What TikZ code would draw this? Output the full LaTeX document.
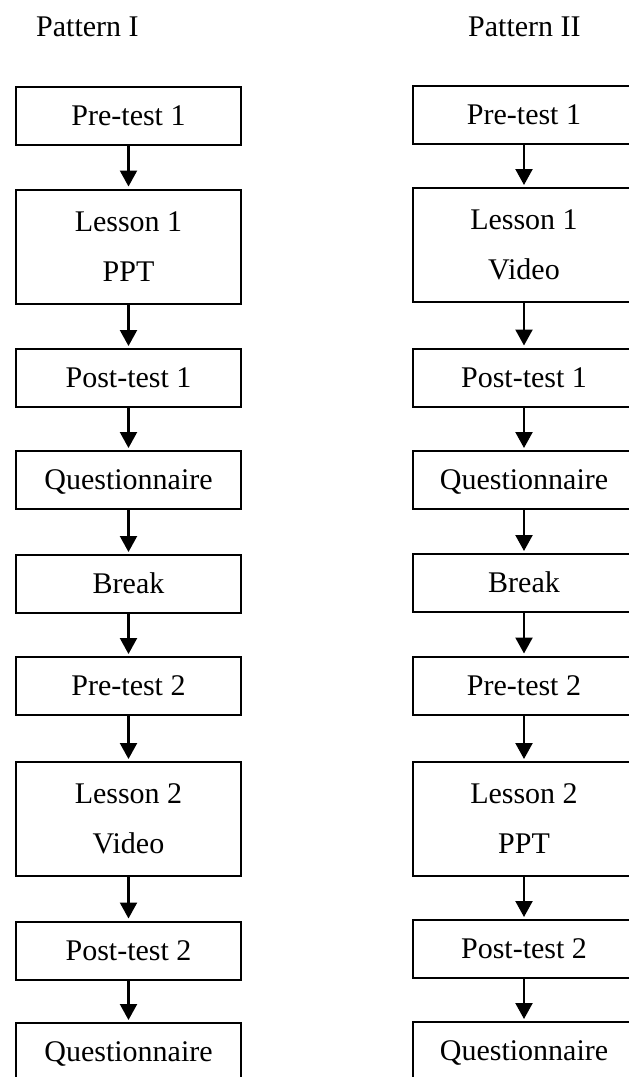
\documentclass[tikz,border=0pt]{standalone}
\usepackage{fontspec}
\setmainfont{Liberation Serif}
\usetikzlibrary{arrows.meta}
\begin{document}
\begin{tikzpicture}[x=1pt,y=1pt,
  every node/.style={font=\fontsize{30}{50}\selectfont, text=black},
  stagebox/.style={draw=black, line width=2pt, rectangle, fill=white,
    inner sep=0pt, minimum height=58pt, text height=19.5pt, text depth=0pt},
  lessonbox/.style={draw=black, line width=2pt, rectangle, fill=white,
    inner sep=0pt, minimum height=114pt, align=center},
  leftcol/.style={minimum width=225pt},
  rightcol/.style={minimum width=222pt},
  flow/.style={-{Triangle[length=16pt,width=17pt]}, line width=2.2pt, shorten >=2pt}]
\useasboundingbox (0,0) rectangle (629,-1077);
\fill[white] (0,0) rectangle (629,-1077);

% column headings
\node[anchor=base west, inner sep=0pt] (headA) at (36,-36) {Pattern I};
\node[anchor=base west, inner sep=0pt] (headB) at (468,-36) {Pattern II};

% Pattern I
\node[stagebox, leftcol]  (a1) at (128.5,-115.5) {Pre-test 1};
\node[lessonbox, leftcol] (a2) at (128.5,-246.5) {Lesson 1\\PPT};
\node[stagebox, leftcol]  (a3) at (128.5,-378)   {Post-test 1};
\node[stagebox, leftcol]  (a4) at (128.5,-480)   {Questionnaire};
\node[stagebox, leftcol]  (a5) at (128.5,-584)   {Break};
\node[stagebox, leftcol]  (a6) at (128.5,-686)   {Pre-test 2};
\node[lessonbox, leftcol] (a7) at (128.5,-819)   {Lesson 2\\Video};
\node[stagebox, leftcol]  (a8) at (128.5,-950.5) {Post-test 2};
\node[stagebox, leftcol]  (a9) at (128.5,-1052)  {Questionnaire};

% Pattern II
\node[stagebox, rightcol]  (b1) at (524,-115)   {Pre-test 1};
\node[lessonbox, rightcol] (b2) at (524,-245)   {Lesson 1\\Video};
\node[stagebox, rightcol]  (b3) at (524,-377.5) {Post-test 1};
\node[stagebox, rightcol]  (b4) at (524,-480)   {Questionnaire};
\node[stagebox, rightcol]  (b5) at (524,-583)   {Break};
\node[stagebox, rightcol]  (b6) at (524,-685.5) {Pre-test 2};
\node[lessonbox, rightcol] (b7) at (524,-819)   {Lesson 2\\PPT};
\node[stagebox, rightcol]  (b8) at (524,-949)   {Post-test 2};
\node[stagebox, rightcol]  (b9) at (524,-1051)  {Questionnaire};

% connectors
\foreach \i [evaluate=\i as \j using int(\i+1)] in {1,...,8} {
  \draw[flow] (a\i.south) -- (a\j.north);
  \draw[flow] (b\i.south) -- (b\j.north);
}
\end{tikzpicture}
\end{document}
